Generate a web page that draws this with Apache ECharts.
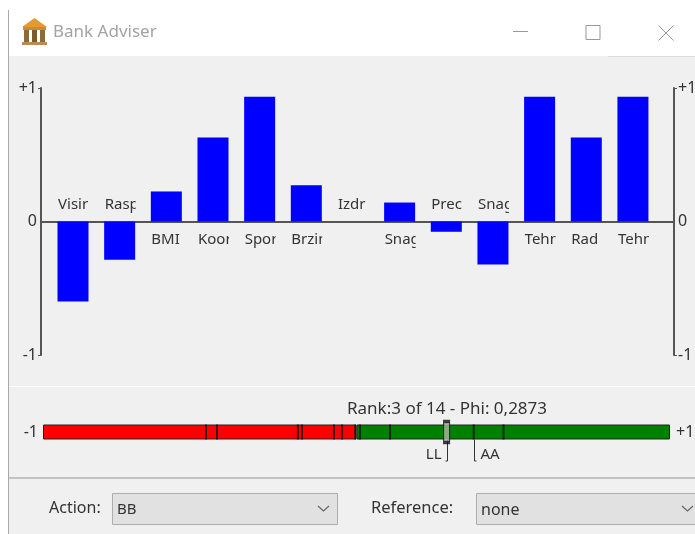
<!DOCTYPE html>
<html>
<head>
<meta charset="utf-8">
<title>Bank Adviser</title>
<style>
  html, body { margin: 0; padding: 0; background: #fff; }
  #main { width: 695px; height: 534px; }
</style>
<script src="https://cdn.jsdelivr.net/npm/echarts@6/dist/echarts.min.js"></script>
</head>
<body>
<div id="main"></div>
<script>
// bar chart data
const categories = ['Visir', 'Rasp', 'BMI', 'Koor', 'Spor', 'Brzin', 'Izdr', 'Snag', 'Prec', 'Snag', 'Tehn', 'Rad', 'Tehn']
const barValues = [-0.6, -0.287, 0.225, 0.63, 0.934, 0.272, 0, 0.142, -0.077, -0.322, 0.934, 0.63, 0.934]
const yTicks = [-1, 1]

// rank strip data
const rankTicks = [-0.48, -0.445, -0.187, -0.174, -0.072, -0.046, -0.004, 0.011, 0.107, 0.374, 0.469]
const selectedPhi = [0.2873]
const markerNames = ['LL', 'AA']
const markerValues = [0.2873, 0.374]
const rankText = 'Rank:3 of 14 - Phi: 0,2873'

const font = 'Noto Sans'
const textColor = '#333'
const axisColor = '#555'

// window frame, drawn behind the charts
const chrome = [
  { type: 'rect', shape: { x: 9, y: 56, width: 686, height: 478 }, style: { fill: '#f0f0f0' } },
  { type: 'rect', shape: { x: 8, y: 10, width: 1, height: 524 }, style: { fill: '#a8a8a8' } },
  { type: 'rect', shape: { x: 608, y: 56, width: 87, height: 1 }, style: { fill: '#dcdcdc' } },
  { type: 'rect', shape: { x: 9, y: 386, width: 686, height: 1 }, style: { fill: '#fff' } },
  { type: 'rect', shape: { x: 9, y: 477, width: 686, height: 2 }, style: { fill: '#c4c4c4' } },
  // bank icon
  { type: 'polygon', shape: { points: [[22, 27], [34.5, 18], [47, 27]] }, style: { fill: '#e39a35' } },
  { type: 'rect', shape: { x: 23, y: 27, width: 23, height: 3 }, style: { fill: '#c98a3a' } },
  { type: 'rect', shape: { x: 24, y: 30, width: 5, height: 12 }, style: { fill: '#8d6a3c' } },
  { type: 'rect', shape: { x: 32, y: 30, width: 5, height: 12 }, style: { fill: '#7a5a30' } },
  { type: 'rect', shape: { x: 40, y: 30, width: 5, height: 12 }, style: { fill: '#8d6a3c' } },
  { type: 'rect', shape: { x: 22, y: 42, width: 25, height: 3 }, style: { fill: '#b98c55' } },
  { type: 'text', x: 53, y: 32, style: { text: 'Bank Adviser', font: '17px ' + font, fill: '#a3a3a3', textVerticalAlign: 'middle' } },
  // window buttons
  { type: 'rect', shape: { x: 513, y: 31, width: 15, height: 1 }, style: { fill: '#999' } },
  { type: 'rect', shape: { x: 586, y: 25.5, width: 14, height: 14 }, style: { fill: 'none', stroke: '#999', lineWidth: 1 } },
  { type: 'polyline', shape: { points: [[658.5, 25.5], [673.5, 40.5]] }, style: { stroke: '#999', lineWidth: 1 } },
  { type: 'polyline', shape: { points: [[673.5, 25.5], [658.5, 40.5]] }, style: { stroke: '#999', lineWidth: 1 } },
  // rank caption
  { type: 'text', x: 347, y: 409, style: { text: rankText, font: '17px ' + font, fill: textColor, textVerticalAlign: 'middle' } },
  // combos
  { type: 'text', x: 49, y: 508, style: { text: 'Action:', font: '16px ' + font, fill: textColor, textVerticalAlign: 'middle' } },
  { type: 'rect', shape: { x: 112.5, y: 493.5, width: 225, height: 31 }, style: { fill: '#e1e1e1', stroke: '#adadad', lineWidth: 1 } },
  { type: 'text', x: 117, y: 510, style: { text: 'BB', font: '15px ' + font, fill: textColor, textVerticalAlign: 'middle' } },
  { type: 'polyline', shape: { points: [[318, 506], [323.5, 511], [329, 506]] }, style: { stroke: '#666', lineWidth: 1.2 } },
  { type: 'text', x: 371, y: 508, style: { text: 'Reference:', font: '16.5px ' + font, fill: textColor, textVerticalAlign: 'middle' } },
  { type: 'rect', shape: { x: 476.5, y: 493.5, width: 225, height: 31 }, style: { fill: '#e1e1e1', stroke: '#adadad', lineWidth: 1 } },
  { type: 'text', x: 481, y: 510, style: { text: 'none', font: '16px ' + font, fill: textColor, textVerticalAlign: 'middle' } },
  { type: 'polyline', shape: { points: [[682, 506], [687.5, 511], [693, 506]] }, style: { stroke: '#666', lineWidth: 1.2 } }
]

// names under/over the bars, cut off at the bar width like the original
function renderBarName(params, api) {
  const i = api.value(0)
  const pos = api.coord([i, 0])
  const above = barValues[i] <= 0
  return {
    type: 'text',
    x: pos[0] - 15,
    y: pos[1] + (above ? -17 : 18),
    style: {
      text: categories[i],
      font: '15px ' + font,
      fill: textColor,
      textVerticalAlign: 'middle'
    },
    clipPath: { type: 'rect', shape: { x: 0, y: -12, width: 31, height: 24 } }
  }
}

// LL / AA leader lines below the strip
function renderMarker(params, api) {
  const i = api.value(0)
  const pos = api.coord([markerValues[i], 'rank'])
  const side = i === 0 ? -1 : 1
  const x = Math.round(pos[0]) + 0.5
  return {
    type: 'group',
    children: [
      {
        type: 'polyline',
        shape: { points: [[x, pos[1] + 8], [x, pos[1] + 29], [x + side * 2, pos[1] + 29]] },
        style: { stroke: '#333', lineWidth: 1, fill: 'none' }
      },
      {
        type: 'text',
        x: x + side * 6,
        y: pos[1] + 23,
        style: {
          text: markerNames[i],
          font: '15px ' + font,
          fill: textColor,
          textAlign: side < 0 ? 'right' : 'left',
          textVerticalAlign: 'middle'
        }
      }
    ]
  }
}

const yAxisCommon = {
  type: 'value',
  gridIndex: 0,
  min: -1,
  max: 1,
  interval: 1,
  splitLine: { show: false },
  axisLine: { show: true, onZero: false, lineStyle: { color: axisColor, width: 2 } },
  axisTick: { show: true, length: 3, customValues: yTicks, lineStyle: { color: axisColor, width: 1 } },
  axisLabel: {
    fontFamily: font,
    fontSize: 16,
    color: textColor,
    margin: 4,
    formatter: v => (v > 0 ? '+' + v : String(v))
  }
}

const chart = echarts.init(document.getElementById('main'))
chart.setOption({
  animation: false,
  backgroundColor: '#fff',
  graphic: { elements: chrome.map(el => ({ ...el, z: -10, silent: true })) },
  grid: [
    // the +1 on the right runs off the window, so no shrinking to fit labels
    { left: 41, top: 88, width: 633, height: 267, outerBoundsMode: 'none' },
    { left: 43, top: 424, width: 627, height: 16, outerBoundsMode: 'none' }
  ],
  xAxis: [
    {
      type: 'value',
      gridIndex: 0,
      min: -0.686,
      max: 12.88,
      splitLine: { show: false },
      axisTick: { show: false },
      axisLabel: { show: false },
      axisLine: { show: true, lineStyle: { color: axisColor, width: 2 } }
    },
    {
      type: 'value',
      gridIndex: 1,
      min: -1,
      max: 1,
      show: false,
      splitLine: { show: false }
    }
  ],
  yAxis: [
    { ...yAxisCommon, position: 'left' },
    { ...yAxisCommon, position: 'right' },
    {
      type: 'category',
      gridIndex: 1,
      data: ['rank'],
      show: false
    }
  ],
  series: [
    {
      type: 'bar',
      xAxisIndex: 0,
      yAxisIndex: 0,
      barWidth: 31,
      itemStyle: { color: '#0000ff' },
      data: barValues.map((v, i) => [i, v])
    },
    {
      type: 'custom',
      xAxisIndex: 0,
      yAxisIndex: 0,
      renderItem: renderBarName,
      data: categories.map((c, i) => [i, 0])
    },
    {
      type: 'bar',
      xAxisIndex: 1,
      yAxisIndex: 2,
      stack: 'rank',
      barWidth: 15,
      itemStyle: { color: '#ff0000', borderColor: '#222', borderWidth: 1 },
      label: { show: true, position: 'left', distance: 5, formatter: '-1', fontFamily: font, fontSize: 16, color: textColor },
      data: [-1]
    },
    {
      type: 'bar',
      xAxisIndex: 1,
      yAxisIndex: 2,
      stack: 'rank',
      barWidth: 15,
      itemStyle: { color: '#008000', borderColor: '#222', borderWidth: 1 },
      label: { show: true, position: 'right', distance: 6, formatter: '+1', fontFamily: font, fontSize: 16, color: textColor },
      data: [1]
    },
    {
      type: 'scatter',
      xAxisIndex: 1,
      yAxisIndex: 2,
      symbol: 'rect',
      symbolSize: [2, 15],
      itemStyle: { color: '#111' },
      z: 3,
      data: rankTicks.map(v => [v, 'rank'])
    },
    {
      type: 'custom',
      xAxisIndex: 1,
      yAxisIndex: 2,
      renderItem: renderMarker,
      z: 3,
      data: markerNames.map((n, i) => [i])
    },
    {
      type: 'scatter',
      xAxisIndex: 1,
      yAxisIndex: 2,
      symbol: 'rect',
      symbolSize: [6, 21],
      itemStyle: { color: '#b0b0b0', borderColor: '#111', borderWidth: 2 },
      z: 4,
      data: selectedPhi.map(v => [v, 'rank'])
    }
  ]
})
</script>
</body>
</html>
